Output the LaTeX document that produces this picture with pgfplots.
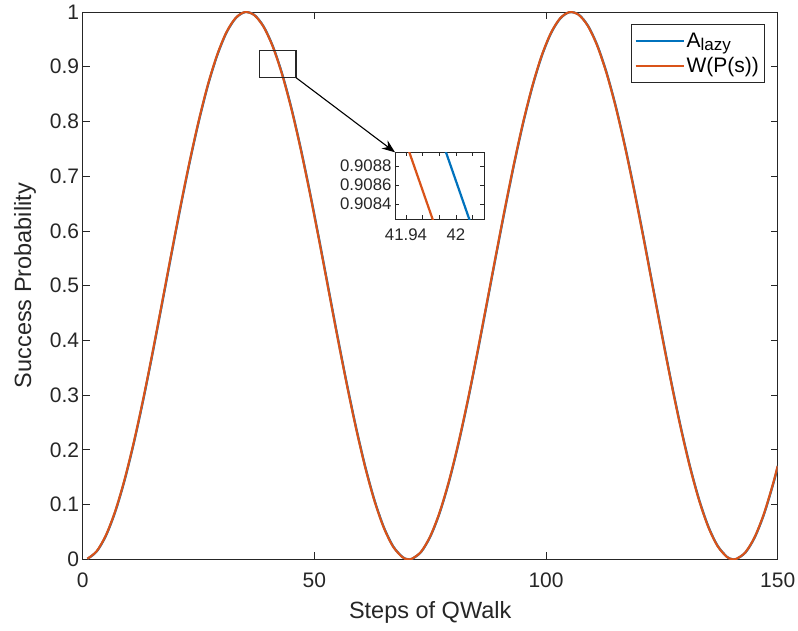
\documentclass[border=0pt]{standalone}
\usepackage{fontspec}
\setmainfont{Liberation Sans}
\usepackage{pgfplots}
\usepackage{pgfplotstable}
\pgfplotsset{compat=1.18}
\usetikzlibrary{arrows.meta}
\definecolor{mblue}{rgb}{0,0.447,0.741}
\definecolor{morange}{rgb}{0.85,0.325,0.098}
\definecolor{axgray}{rgb}{0.15,0.15,0.15}
\pgfplotstableread{
t y
1 0.00098
3 0.01457
5 0.04372
7 0.08748
9 0.14450
11 0.21290
13 0.29040
15 0.37480
17 0.46320
19 0.55257
21 0.64050
23 0.72372
25 0.79980
27 0.86660
29 0.92120
31 0.96260
33 0.98896
35 0.99976
37 0.99453
39 0.97348
41 0.93726
43 0.88700
45 0.82435
47 0.75127
49 0.67020
51 0.58370
53 0.49449
55 0.40517
57 0.31933
59 0.23909
61 0.16715
63 0.10594
65 0.05742
67 0.02303
69 0.00393
70 0.00032
71 0.00072
73 0.01352
75 0.04190
77 0.08495
79 0.14136
81 0.20923
83 0.28634
85 0.37039
87 0.45864
89 0.54784
91 0.63578
93 0.71953
95 0.79638
97 0.86326
99 0.91876
101 0.96077
103 0.98800
105 0.99960
107 0.99518
109 0.97490
111 0.93941
113 0.88980
115 0.82777
117 0.75513
119 0.67444
121 0.58835
123 0.49885
125 0.40965
127 0.32344
129 0.24287
131 0.17054
133 0.10877
135 0.05951
137 0.02440
139 0.00451
140 0.00050
141 0.00050
143 0.01250
145 0.04012
147 0.08248
149 0.13825
150 0.17059
}\probtable
\begin{document}
\begin{tikzpicture}[x=1pt,y=1pt]
\begin{axis}[
  name=main,
  at={(82.7pt,71.7pt)}, anchor=south west,
  width=695pt, height=547.3pt, scale only axis,
  xmin=0, xmax=150, ymin=0, ymax=1,
  xtick={0,50,100,150},
  ytick={0,0.1,0.2,0.3,0.4,0.5,0.6,0.7,0.8,0.9,1},
  tick align=inside, major tick length=7pt,
  axis line style={axgray, line width=0.7pt},
  tick style={axgray, line width=0.7pt},
  ticklabel style={font=\fontsize{21}{25}\selectfont, text=axgray},
  xticklabel style={yshift=-10pt},
  /pgf/number format/assume math mode=true,
  yticklabel style={/pgf/number format/fixed, /pgf/number format/precision=1},
  scaled ticks=false,
  xlabel={Steps of QWalk}, ylabel={Success Probability},
  label style={font=\fontsize{23.5}{28}\selectfont, text=axgray},
  xlabel style={at={(axis description cs:0.5,-0.0926)}, anchor=center, yshift=-2pt},
  ylabel style={at={(axis description cs:-0.083,0.5)}, anchor=center},
  legend style={at={(0.9807,0.9775)}, anchor=north east, draw=axgray, line width=0.7pt,
    font=\fontsize{21}{25}\selectfont, text=black, inner xsep=3pt, inner ysep=6pt, row sep=5pt,
    cells={anchor=west}},
  legend image code/.code={\draw[#1, line width=2.2pt] (0pt,0pt) -- (48pt,0pt);},
]
\addplot[mblue, line width=2.2pt, smooth] table[x expr=\thisrow{t}+0.05, y=y] {\probtable};
\addlegendentry{A\raisebox{-0.35ex}{\fontsize{17}{20}\selectfont lazy}}
\addplot[morange, line width=2.2pt, smooth] table[x=t, y=y] {\probtable};
\addlegendentry{W(P(s))}
\draw[axgray, line width=1.3pt] (axis cs:38.11,0.8800) rectangle (axis cs:46.04,0.9293);
\coordinate (zc) at (axis cs:46.04,0.8800);
\end{axis}
\begin{axis}[
  name=inset,
  at={(395pt,411.7pt)}, anchor=south west,
  width=89.3pt, height=67pt, scale only axis,
  axis background/.style={fill=white},
  xmin=41.9268, xmax=42.034, ymin=0.908239, ymax=0.908944,
  xtick={41.94,42}, minor xtick={41.96,41.98,42.02},
  ytick={0.9084,0.9086,0.9088},
  tick align=inside, major tick length=4pt, minor tick length=4pt,
  axis line style={axgray, line width=0.7pt},
  tick style={axgray, line width=0.6pt},
  ticklabel style={font=\fontsize{16.8}{19}\selectfont, text=axgray},
  xticklabel style={yshift=-6pt},
  /pgf/number format/assume math mode=true,
  xticklabel style={/pgf/number format/fixed, /pgf/number format/precision=2},
  yticklabel style={/pgf/number format/fixed, /pgf/number format/precision=4},
  scaled ticks=false,
]
\addplot[morange, line width=2.2pt] coordinates {(41.940,0.909045) (41.976,0.908138)};
\addplot[mblue, line width=2.2pt] coordinates {(41.984,0.909045) (42.020,0.908138)};
\end{axis}
\draw[black, line width=1.1pt, -{Stealth[length=13pt,width=10pt]}] (zc) -- (inset.north west);
\pgfresetboundingbox
\path (0pt,0pt) rectangle (798pt,631pt);
\end{tikzpicture}
\end{document}
